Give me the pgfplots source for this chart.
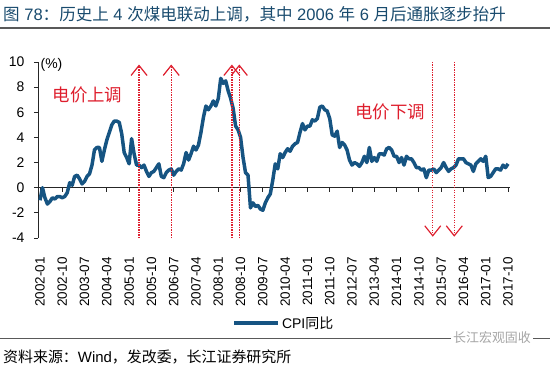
\documentclass[border=0pt]{standalone}
\usepackage{fontspec}
\setmainfont{Liberation Sans}
\newfontfamily\cjk{Noto Sans CJK SC}
\usepackage{pgfplots}
\usepackage{pgfplotstable}
\pgfplotsset{compat=1.18}
\usetikzlibrary{arrows.meta}
\definecolor{cpi}{RGB}{22,84,130}
\definecolor{ared}{RGB}{222,30,45}
\definecolor{tblue}{RGB}{25,75,110}

\pgfplotstableread{
idx val
0 -1.0
1 0.0
2 -0.8
3 -1.3
4 -1.1
5 -0.8
6 -0.9
7 -0.7
8 -0.7
9 -0.8
10 -0.7
11 -0.4
12 0.4
13 0.2
14 0.9
15 1.0
16 0.7
17 0.3
18 0.5
19 0.9
20 1.1
21 1.8
22 3.0
23 3.2
24 3.2
25 2.1
26 3.0
27 3.8
28 4.4
29 5.0
30 5.3
31 5.3
32 5.2
33 4.3
34 2.8
35 2.4
36 1.9
37 3.9
38 2.7
39 1.8
40 1.8
41 1.6
42 1.8
43 1.3
44 0.9
45 1.2
46 1.3
47 1.6
48 1.9
49 0.9
50 0.8
51 1.2
52 1.4
53 1.5
54 1.0
55 1.3
56 1.5
57 1.4
58 1.9
59 2.8
60 2.2
61 2.7
62 3.3
63 3.0
64 3.4
65 4.4
66 5.6
67 6.5
68 6.2
69 6.5
70 6.9
71 6.5
72 7.1
73 8.7
74 8.3
75 8.5
76 7.7
77 7.1
78 6.3
79 4.9
80 4.6
81 4.0
82 2.4
83 1.2
84 1.0
85 -1.6
86 -1.2
87 -1.5
88 -1.4
89 -1.7
90 -1.8
91 -1.2
92 -0.8
93 -0.5
94 0.6
95 1.9
96 1.5
97 2.7
98 2.4
99 2.8
100 3.1
101 2.9
102 3.3
103 3.5
104 3.6
105 4.4
106 5.1
107 4.6
108 4.9
109 4.9
110 5.4
111 5.3
112 5.5
113 6.4
114 6.5
115 6.2
116 6.1
117 5.5
118 4.2
119 4.1
120 4.5
121 3.2
122 3.6
123 3.4
124 3.0
125 2.2
126 1.8
127 2.0
128 1.9
129 1.7
130 2.0
131 2.5
132 2.0
133 3.2
134 2.1
135 2.4
136 2.1
137 2.7
138 2.7
139 2.6
140 3.1
141 3.2
142 3.0
143 2.5
144 2.5
145 2.0
146 2.4
147 1.8
148 2.5
149 2.3
150 2.3
151 2.0
152 1.6
153 1.6
154 1.4
155 1.5
156 0.8
157 1.4
158 1.4
159 1.5
160 1.2
161 1.4
162 1.6
163 2.0
164 1.6
165 1.3
166 1.5
167 1.6
168 1.8
169 2.3
170 2.3
171 2.3
172 2.0
173 1.9
174 1.8
175 1.3
176 1.9
177 2.1
178 2.3
179 2.1
180 2.5
181 0.8
182 0.9
183 1.2
184 1.5
185 1.5
186 1.4
187 1.8
188 1.6
189 1.9
}\cpidata

\begin{document}
\begin{tikzpicture}[x=1bp,y=1bp]
\path[use as bounding box] (0,0) rectangle (550,367);
\node[anchor=west, inner sep=0, text=tblue, font=\fontsize{16.6}{19}\selectfont] at (3,353)
  {{\cjk 图} 78{\cjk ：历史上} 4 {\cjk 次煤电联动上调，其中} 2006 {\cjk 年} 6 {\cjk 月后通胀逐步抬升}};
\draw[line width=2bp, black!65] (0,339) -- (550,339);
\draw[line width=1bp, black!65] (0,29) -- (550,29);
\node[anchor=west, inner sep=0, font=\fontsize{15}{17}\selectfont] at (3,10)
  {{\cjk 资料来源：}Wind{\cjk ，发改委，长江证券研究所}};
\node[fill=white, inner sep=2bp, text=black!35, font=\fontsize{13}{15}\cjk] at (492,29) {长江宏观固收};

\begin{axis}[
  at={(38bp,129bp)}, anchor=south west, scale only axis,
  width=472bp, height=176bp,
  xmin=-0.8, xmax=189.8, ymin=-4, ymax=10,
  axis x line=middle, axis y line=left,
  axis line style={-, line width=0.9bp, black!85},
  tick style={line width=0.9bp, black!85},
  tick align=outside, major tick length=4bp,
  ytick={-4,-2,0,2,4,6,8,10},
  xtick={0,9,...,189},
  xticklabels={2002-01,2002-10,2003-07,2004-04,2005-01,2005-10,2006-07,2007-04,2008-01,2008-10,2009-07,2010-04,2011-01,2011-10,2012-07,2013-04,2014-01,2014-10,2015-07,2016-04,2017-01,2017-10},
  /pgf/number format/assume math mode=true,
  yticklabel style={font=\fontsize{14}{16}\selectfont, xshift=-6bp},
  xticklabel style={font=\fontsize{13.5}{16}\selectfont, yshift=-62bp, rotate=90, anchor=east},
  legend style={at={(0.521,-0.483)}, anchor=center, draw=none, fill=none, font=\fontsize{14}{16}\selectfont, inner sep=0pt},
  legend image code/.code={\draw[#1, line width=3.5bp] (0bp,0bp) -- (44bp,0bp);},
  clip=false,
]
\addplot[cpi, line width=3.5bp, line join=round] table[x=idx, y=val] {\cpidata};
\addlegendentry{CPI{\cjk 同比}}
\addplot[ared, line width=1.3bp, dash pattern=on 1.3bp off 1.2bp, -{Straight Barb[length=10bp, width=16bp, line width=1.2bp]}, forget plot] coordinates {(40,-4) (40,9.8)};
\addplot[ared, line width=1.3bp, dash pattern=on 1.3bp off 1.2bp, -{Straight Barb[length=10bp, width=16bp, line width=1.2bp]}, forget plot] coordinates {(53,-4) (53,9.8)};
\addplot[ared, line width=1.3bp, dash pattern=on 1.3bp off 1.2bp, -{Straight Barb[length=10bp, width=16bp, line width=1.2bp]}, forget plot] coordinates {(77.5,-4) (77.5,9.8)};
\addplot[ared, line width=1.3bp, dash pattern=on 1.3bp off 1.2bp, -{Straight Barb[length=10bp, width=16bp, line width=1.2bp]}, forget plot] coordinates {(80.5,-4) (80.5,9.8)};
\addplot[ared, line width=1.3bp, dash pattern=on 1.3bp off 1.2bp, -{Straight Barb[length=10bp, width=16bp, line width=1.2bp]}, forget plot] coordinates {(158.6,10) (158.6,-3.9)};
\addplot[ared, line width=1.3bp, dash pattern=on 1.3bp off 1.2bp, -{Straight Barb[length=10bp, width=16bp, line width=1.2bp]}, forget plot] coordinates {(167.3,10) (167.3,-3.9)};
\node[anchor=west, inner sep=0, font=\fontsize{14}{16}\selectfont] at (axis cs:0.2,9.75) {(\%)};
\node[text=ared, font=\fontsize{17.5}{19}\cjk] at (axis cs:19.2,7.4) {电价上调};
\node[text=ared, font=\fontsize{17.5}{19}\cjk] at (axis cs:141.4,6.05) {电价下调};
\end{axis}
\end{tikzpicture}
\end{document}
